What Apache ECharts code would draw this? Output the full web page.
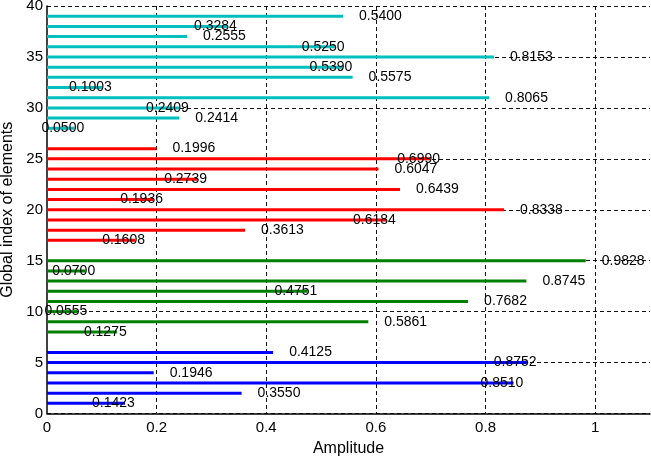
<!DOCTYPE html>
<html>
<head>
<meta charset="utf-8">
<script src="https://cdn.jsdelivr.net/npm/echarts@6/dist/echarts.min.js"></script>
<style>
  html, body { margin: 0; padding: 0; background: #fff; }
  #chart { width: 651px; height: 457px; }
</style>
</head>
<body>
<div id="chart"></div>
<script>
// Índices globales y amplitudes por grupo (de abajo hacia arriba)
const blueIdx = [1, 2, 3, 4, 5, 6];
const blueAmp = [0.1423, 0.3550, 0.8510, 0.1946, 0.8752, 0.4125];
const greenIdx = [8, 9, 10, 11, 12, 13, 14, 15];
const greenAmp = [0.1275, 0.5861, 0.0555, 0.7682, 0.4751, 0.8745, 0.0700, 0.9828];
const redIdx = [17, 18, 19, 20, 21, 22, 23, 24, 25, 26];
const redAmp = [0.1608, 0.3613, 0.6184, 0.8338, 0.1936, 0.6439, 0.2739, 0.6047, 0.6990, 0.1996];
const cyanIdx = [28, 29, 30, 31, 32, 33, 34, 35, 36, 37, 38, 39];
const cyanAmp = [0.0500, 0.2414, 0.2409, 0.8065, 0.1003, 0.5575, 0.5390, 0.8153, 0.5250, 0.2555, 0.3284, 0.5400];

// Etiquetas del eje Y (0..40)
const yCategories = [];
for (let i = 0; i <= 40; i++) yCategories.push(String(i));

const fuente = "'Liberation Sans', Arial, Helvetica, sans-serif";

// Construir los datos de una serie sobre el eje de categorías
function armarSerie(indices, amps, color) {
    const datos = yCategories.map(() => null);
    indices.forEach((idx, k) => {
        datos[idx] = {
            value: amps[k],
            label: { offset: [k % 2 === 0 ? -33 : 16, 0] }
        };
    });
    return {
        type: 'bar',
        data: datos,
        barWidth: 3,
        barGap: '-100%',
        itemStyle: { color: color },
        label: {
            show: true,
            position: 'right',
            distance: 0,
            color: '#000',
            fontSize: 14,
            fontFamily: fuente,
            formatter: p => p.value.toFixed(4)
        },
        animation: false
    };
}

const grafico = echarts.init(document.getElementById('chart'));
grafico.setOption({
    animation: false,
    grid: { left: 47, right: 1, top: 6, bottom: 43.5, outerBoundsMode: 'none', containLabel: false },
    xAxis: {
        type: 'value',
        min: 0,
        max: 1.1,
        interval: 0.2,
        name: 'Amplitude',
        nameLocation: 'middle',
        nameGap: 19,
        nameTextStyle: { fontSize: 16, color: '#000', fontFamily: fuente },
        axisLine: { show: true, lineStyle: { color: '#000', width: 1.5 } },
        axisTick: { show: false },
        axisLabel: { color: '#000', fontSize: 15, fontFamily: fuente, margin: 7, showMaxLabel: false },
        splitLine: {
            show: true,
            showMinLine: false,
            showMaxLine: false,
            lineStyle: { color: '#111', type: [4, 3], width: 1 }
        }
    },
    yAxis: {
        type: 'category',
        data: yCategories,
        boundaryGap: false,
        name: 'Global index of elements',
        nameLocation: 'middle',
        nameGap: 30,
        nameTextStyle: { fontSize: 16, color: '#000', fontFamily: fuente },
        axisLine: { show: true, lineStyle: { color: '#000', width: 1.5 } },
        axisTick: { show: false },
        axisLabel: { interval: 4, color: '#000', fontSize: 15, fontFamily: fuente, margin: 4 },
        splitLine: {
            show: true,
            interval: 4,
            lineStyle: { color: '#111', type: [4, 3], width: 1 }
        }
    },
    series: [
        armarSerie(blueIdx, blueAmp, '#0000FF'),
        armarSerie(greenIdx, greenAmp, '#008000'),
        armarSerie(redIdx, redAmp, '#FF0000'),
        armarSerie(cyanIdx, cyanAmp, '#00BFBF')
    ]
});
</script>
</body>
</html>
